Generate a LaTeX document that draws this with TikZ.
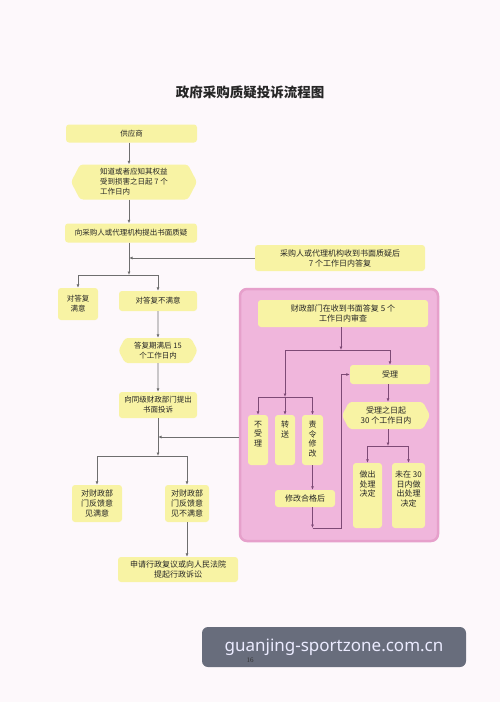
\documentclass[tikz,border=0pt]{standalone}
\usepackage{fontspec}
\setmainfont{Noto Sans CJK SC}
\newfontfamily\wmfont{Noto Sans}
\newfontfamily\pgfont{Liberation Serif}
\usetikzlibrary{arrows.meta,shapes.symbols}

\definecolor{bgpaper}{HTML}{FDF8FB}
\definecolor{boxyellow}{HTML}{F8F3A4}
\definecolor{panelpink}{HTML}{F0B6DC}
\definecolor{paneledge}{HTML}{E6A0CB}
\definecolor{linegray}{HTML}{6E6E6E}
\definecolor{linepurple}{HTML}{7E4A76}
\definecolor{wmgray}{HTML}{686D7C}

\newcommand{\topbox}[3]{\parbox[t][#2][t]{#1}{\centering #3}}

\tikzset{
  box/.style={fill=boxyellow, rounded corners=3pt, inner sep=2pt, align=center,
    text=black!85, font=\fontsize{7.5}{10}\selectfont},
  pbox/.style={box, font=\fontsize{8}{10}\selectfont},
  hexa/.style={box, shape=signal, signal to=east and west, signal from=nowhere,
    signal pointer angle=125},
  tall/.style={pbox, inner xsep=3pt, inner ysep=6pt, font=\fontsize{8}{9.5}\selectfont},
  panel/.style={fill=panelpink, draw=paneledge, line width=2.5pt, rounded corners=7pt},
  link/.style={draw=linegray, line width=0.7pt, -{Latex[length=3.5pt,width=3pt]}},
  plink/.style={link, draw=linepurple},
  heading/.style={font=\fontsize{13.5}{16}\selectfont\bfseries, text=black!85},
  wmark/.style={fill=wmgray, rounded corners=6pt, text=white!92!blue,
    font=\wmfont\fontsize{17}{20}\selectfont}
}

\begin{document}
\begin{tikzpicture}[x=1pt,y=-1pt]
	\fill[bgpaper] (0,0) rectangle (500,702);
	\useasboundingbox (0,0) rectangle (500,702);

	\node[heading] (tt) at (250,92) {政府采购质疑投诉流程图};

	\node[box, minimum width=131pt, minimum height=18pt] (gys) at (131.5,133.5) {供应商};
	\node[hexa, minimum width=126pt, minimum height=35pt, align=left] (zd) at (134,182) {知道或者应知其权益\\受到损害之日起 7 个\\工作日内};
	\node[box, minimum width=132pt, minimum height=19pt] (zy) at (131,233) {向采购人或代理机构提出书面质疑};
	\node[pbox, minimum width=170pt, minimum height=26pt] (dfu) at (340,258) {采购人或代理机构收到书面质疑后\\7 个工作日内答复};

	\node[box, minimum width=40pt, minimum height=32pt] (my) at (78,304) {对答复\\满意};
	\node[box, minimum width=78pt, minimum height=20pt] (bmy) at (158,301) {对答复不满意};
	\node[hexa, minimum width=79pt, minimum height=25pt] (qm) at (158,350.5) {答复期满后 15\\个工作日内};
	\node[box, minimum width=78pt, minimum height=26pt] (ts) at (158,405) {向同级财政部门提出\\书面投诉};

	\node[pbox, minimum width=50pt, minimum height=37pt] (my2) at (97,503.5) {对财政部\\门反馈意\\见满意};
	\node[pbox, minimum width=44pt, minimum height=37pt] (bmy2) at (187,503.5) {对财政部\\门反馈意\\见不满意};
	\node[pbox, minimum width=120pt, minimum height=25pt] (sq) at (178,569.5) {申请行政复议或向人民法院\\提起行政诉讼};

	\coordinate (t1) at (129,0);
	\coordinate (b1) at (129,275);
	\draw[link] (gys.south -| t1) -- (zd.north -| t1);
	\draw[link] (zd.south -| t1) -- (zy.north -| t1);
	\draw[link] (zy.south -| b1) -- (b1);
	\draw[link] (dfu.west) -- (dfu.west -| b1);
	\draw[link] (b1) -| (my.north);
	\draw[link] (b1) -| (bmy.north);
	\draw[link] (bmy) -- (qm);
	\draw[link] (qm) -- (ts);

	\node[panel, minimum width=198pt, minimum height=252pt] (pink) at (339,415) {};

	\coordinate (j2) at (158,437);
	\coordinate (b2) at (158,456);
	\draw[link] (ts) -- (b2);
	\draw[link] (pink.west |- j2) -- (j2);
	\draw[link] (b2) -| (my2.north);
	\draw[link] (b2) -| (bmy2.north);
	\draw[link] (bmy2.south) -- (bmy2.south |- sq.north);

	\node[pbox, minimum width=170pt, minimum height=27pt] (sc) at (343,313.5) {财政部门在收到书面答复 5 个\\工作日内审查};
	\node[pbox, minimum width=80pt, minimum height=19pt] (sl) at (390,374.5) {受理};
	\node[hexa, pbox, minimum width=88pt, minimum height=27pt] (sx) at (386,415.5) {受理之日起\\30 个工作日内};

	\node[tall] (bsl) at (258,440) {\topbox{14pt}{38pt}{不\\受\\理}};
	\node[tall] (zs) at (285,440) {\topbox{14pt}{38pt}{转\\送}};
	\node[tall] (zl) at (312.5,440) {\topbox{15pt}{38pt}{责\\令\\修\\改}};
	\node[pbox, minimum width=60pt, minimum height=17pt] (hg) at (305,498.5) {修改合格后};
	\node[tall, inner ysep=8pt] (zc) at (367.5,495.5) {\topbox{23pt}{49pt}{做出\\处理\\决定}};
	\node[tall, inner ysep=8pt] (wz) at (408.5,495.5) {\topbox{27pt}{49pt}{未在 30\\日内做\\出处理\\决定}};

	\coordinate (b3) at (341,350);
	\coordinate (b4) at (285,397);
	\coordinate (b5) at (312.5,528);
	\coordinate (b6) at (341,528);
	\coordinate (b7) at (388,446);
	\draw[plink] (sc.south -| b3) -- (b3);
	\draw[plink] (b3) -| (sl.north);
	\draw[plink] (b3) -| (b4);
	\draw[plink] (b4) -| (bsl.north);
	\draw[plink] (b4) -- (zs.north);
	\draw[plink] (b4) -| (zl.north);
	\draw[plink] (zl.south) -- (zl.south |- hg.north);
	\draw[plink] (hg.south -| b5) -- (b5);
	\draw[plink] (b5) -- (b6) |- (sl.west);
	\draw[plink] (sl.south -| b7) -- (sx.north -| b7);
	\draw[plink] (sx.south -| b7) -- (b7);
	\draw[plink] (b7) -| (zc.north);
	\draw[plink] (b7) -| (wz.north);

	\node[wmark, minimum width=264pt, minimum height=40pt] (wm) at (334,647) {guanjing-sportzone.com.cn};
	\node[font=\pgfont\fontsize{7}{8}\selectfont, text=black!80] (pg) at (250,660) {16};
\end{tikzpicture}
\end{document}
